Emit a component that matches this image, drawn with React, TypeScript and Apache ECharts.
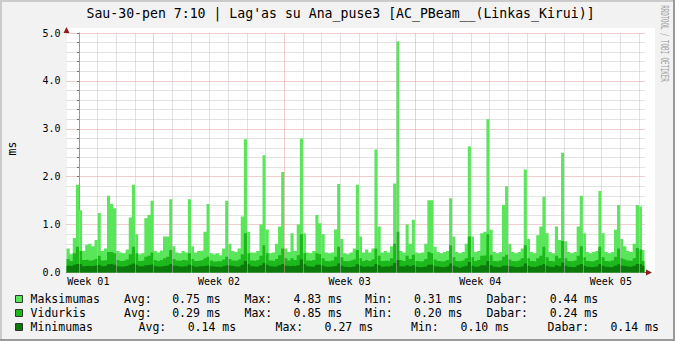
import React, { useEffect, useRef } from "react";
import * as echarts from "echarts";

const TITLE = "Sau-30-pen 7:10 | Lag'as su Ana_puse3 [AC_PBeam__(Linkas_Kirui)]";
const Y_UNIT = "ms";
const WATERMARK = "RRDTOOL / TOBI OETIKER";

// x axis in days since Dec 31 00:00
const AXIS_START = -0.67;
const AXIS_END = 30.33;
const SAMPLE_START = -4 / 6; // first 4-hour sample
const SAMPLE_STEP = 1 / 6; // 4 hours
const DATA_END = 30.299; // Jan 30 07:10

const weekLines = [4, 11, 18, 25];
const weekLabelDays = [0.5, 7.5, 14.5, 21.5, 28.5];
const weekLabels = ["Week 01", "Week 02", "Week 03", "Week 04", "Week 05"];

const maxValues = [
  0.5, 0.38, 0.72, 1.83, 1.3, 0.45, 0.58, 0.6, 0.55, 0.68, 1.24, 0.45,
  0.5, 1.6, 1.43, 1.34, 0.45, 0.42, 0.4, 0.48, 1.15, 1.83, 0.8, 0.38,
  0.4, 1.13, 1.2, 1.5, 0.45, 0.42, 0.46, 0.75, 0.75, 1.53, 0.55, 0.42,
  0.4, 0.45, 0.42, 1.53, 0.55, 0.42, 0.45, 0.46, 0.85, 1.43, 0.4, 0.38,
  0.4, 0.36, 0.5, 1.5, 0.6, 0.45, 0.43, 0.5, 1.17, 2.78, 0.85, 0.42,
  0.42, 0.45, 1.0, 2.45, 0.9, 0.4, 0.42, 0.6, 0.96, 2.1, 0.5, 0.43,
  0.82, 0.45, 1.0, 2.8, 0.82, 0.42, 0.4, 0.45, 1.2, 1.03, 0.8, 0.42,
  0.4, 0.42, 0.9, 1.85, 0.7, 0.4, 0.38, 0.42, 0.5, 1.83, 0.75, 0.42,
  0.48, 0.42, 0.5, 2.57, 0.96, 0.42, 0.45, 0.42, 0.55, 1.86, 4.83, 0.45,
  0.42, 1.0, 0.6, 1.1, 0.42, 0.4, 0.42, 0.6, 1.51, 1.51, 0.54, 0.43,
  0.4, 0.43, 0.45, 1.55, 0.75, 0.43, 0.4, 0.43, 0.6, 2.63, 0.75, 0.43,
  0.45, 0.82, 0.85, 3.2, 0.89, 0.43, 0.4, 0.43, 1.41, 1.8, 0.6, 0.43,
  0.4, 0.43, 0.5, 2.15, 0.7, 0.43, 0.4, 0.78, 0.96, 1.58, 0.82, 0.43,
  0.4, 0.96, 0.68, 2.5, 0.65, 0.43, 0.4, 0.43, 0.96, 1.6, 0.82, 0.43,
  0.4, 0.43, 0.45, 1.7, 0.82, 0.43, 0.4, 0.43, 0.89, 1.41, 0.7, 0.55,
  0.45, 0.43, 0.6, 1.41, 1.38, 0.47,
];

const avgValues = [
  0.28, 0.24, 0.4, 0.54, 0.45, 0.26, 0.27, 0.25, 0.26, 0.28, 0.35, 0.25,
  0.26, 0.43, 0.43, 0.4, 0.26, 0.24, 0.25, 0.27, 0.38, 0.54, 0.4, 0.24,
  0.25, 0.33, 0.35, 0.42, 0.26, 0.24, 0.26, 0.3, 0.33, 0.47, 0.28, 0.25,
  0.24, 0.26, 0.25, 0.4, 0.28, 0.24, 0.25, 0.26, 0.3, 0.33, 0.25, 0.23,
  0.24, 0.23, 0.27, 0.33, 0.28, 0.25, 0.24, 0.27, 0.38, 0.82, 0.4, 0.25,
  0.24, 0.26, 0.35, 0.57, 0.4, 0.25, 0.24, 0.28, 0.36, 0.5, 0.3, 0.25,
  0.3, 0.26, 0.36, 0.8, 0.4, 0.25, 0.24, 0.26, 0.4, 0.38, 0.3, 0.24,
  0.23, 0.25, 0.33, 0.54, 0.32, 0.24, 0.23, 0.25, 0.27, 0.47, 0.3, 0.24,
  0.26, 0.24, 0.27, 0.5, 0.35, 0.24, 0.25, 0.24, 0.3, 0.6, 0.85, 0.26,
  0.24, 0.35, 0.28, 0.37, 0.24, 0.23, 0.24, 0.28, 0.43, 0.4, 0.27, 0.24,
  0.23, 0.24, 0.26, 0.57, 0.32, 0.24, 0.23, 0.25, 0.3, 0.75, 0.32, 0.24,
  0.26, 0.35, 0.36, 0.8, 0.36, 0.24, 0.23, 0.25, 0.33, 0.37, 0.27, 0.24,
  0.23, 0.25, 0.3, 0.57, 0.3, 0.24, 0.23, 0.3, 0.35, 0.54, 0.32, 0.24,
  0.23, 0.35, 0.3, 0.66, 0.3, 0.24, 0.23, 0.25, 0.35, 0.55, 0.32, 0.24,
  0.23, 0.24, 0.26, 0.54, 0.32, 0.24, 0.23, 0.25, 0.33, 0.5, 0.3, 0.27,
  0.25, 0.24, 0.3, 0.51, 0.48, 0.24,
];

const minValues = [
  0.14, 0.13, 0.16, 0.18, 0.17, 0.13, 0.14, 0.13, 0.14, 0.15, 0.16, 0.13,
  0.14, 0.17, 0.18, 0.16, 0.13, 0.12, 0.13, 0.14, 0.16, 0.19, 0.16, 0.13,
  0.13, 0.15, 0.16, 0.17, 0.13, 0.12, 0.13, 0.14, 0.15, 0.18, 0.14, 0.13,
  0.12, 0.13, 0.13, 0.16, 0.14, 0.12, 0.13, 0.13, 0.14, 0.15, 0.13, 0.12,
  0.12, 0.11, 0.13, 0.15, 0.14, 0.13, 0.12, 0.13, 0.16, 0.24, 0.17, 0.13,
  0.12, 0.13, 0.15, 0.2, 0.16, 0.13, 0.12, 0.13, 0.15, 0.18, 0.14, 0.13,
  0.14, 0.13, 0.15, 0.27, 0.17, 0.13, 0.12, 0.13, 0.16, 0.16, 0.14, 0.12,
  0.12, 0.13, 0.14, 0.19, 0.14, 0.12, 0.11, 0.12, 0.13, 0.17, 0.14, 0.12,
  0.13, 0.12, 0.13, 0.18, 0.15, 0.12, 0.13, 0.12, 0.14, 0.2, 0.26, 0.13,
  0.12, 0.15, 0.13, 0.15, 0.12, 0.11, 0.12, 0.13, 0.16, 0.16, 0.13, 0.12,
  0.11, 0.12, 0.13, 0.19, 0.14, 0.12, 0.1, 0.12, 0.14, 0.22, 0.14, 0.12,
  0.13, 0.15, 0.15, 0.24, 0.15, 0.12, 0.11, 0.12, 0.14, 0.15, 0.13, 0.12,
  0.11, 0.12, 0.13, 0.19, 0.14, 0.12, 0.11, 0.13, 0.15, 0.18, 0.14, 0.12,
  0.11, 0.15, 0.13, 0.21, 0.14, 0.12, 0.11, 0.12, 0.15, 0.18, 0.14, 0.12,
  0.11, 0.12, 0.13, 0.18, 0.14, 0.12, 0.11, 0.12, 0.14, 0.17, 0.14, 0.13,
  0.12, 0.12, 0.14, 0.18, 0.17, 0.14,
];

const seriesNames = ["Maksimumas", "Vidurkis", "Minimumas"];
const seriesColors = ["#5AE65A", "#1CB81C", "#0B7A0B"];
const statAvg = [0.75, 0.29, 0.14];
const statMax = [4.83, 0.85, 0.27];
const statMin = [0.31, 0.2, 0.1];
const statNow = [0.44, 0.24, 0.14];
const statLabels = ["Avg:", "Max:", "Min:", "Dabar:"];

const MONO = "'DejaVu Sans Mono', monospace";
const BG = "#F2F2F2";
const AXIS_COLOR = "#707070";
const GRID_COLOR = "#C4C4C4";
const MGRID_COLOR = "#E29A9A";
const ARROW_COLOR = "#8E1C1C";

// legend layout (pixel columns)
const legendRowY = [299, 313, 327];
const legendColsA = [30.6, 124, 172.2, 244.5, 293.6, 365, 414, 486.4, 549.7];
const legendColsB = [30.6, 138.6, 187.7, 275.5, 324.6, 411, 460.6, 547.6, 610.4];

function toPoints(values: number[]) {
  const pts: [number, number][] = values.map((v, i) => [SAMPLE_START + i * SAMPLE_STEP, v]);
  pts.push([DATA_END, values[values.length - 1]]);
  return pts;
}

export default function App() {
  const ref = useRef<HTMLDivElement>(null);

  useEffect(() => {
    if (!ref.current) return;
    const chart = echarts.init(ref.current, undefined, { renderer: "svg" });
    const days = Array.from({ length: 31 }, (_, k) => k);
    const valuesBySeries = [maxValues, avgValues, minValues];

    const legendEls: any[] = [];
    seriesNames.forEach((name, r) => {
      const y = legendRowY[r];
      const cols = r < 2 ? legendColsA : legendColsB;
      legendEls.push({
        type: "rect",
        shape: { x: 15.5, y: y - 3.5, width: 7, height: 7 },
        style: { fill: seriesColors[r], stroke: "#333", lineWidth: 1 },
        z: 10,
      });
      const texts = [
        name,
        statLabels[0], statAvg[r].toFixed(2) + " ms",
        statLabels[1], statMax[r].toFixed(2) + " ms",
        statLabels[2], statMin[r].toFixed(2) + " ms",
        statLabels[3], statNow[r].toFixed(2) + " ms",
      ];
      texts.forEach((t, c) => {
        legendEls.push({
          type: "text",
          x: cols[c],
          y,
          z: 10,
          style: { text: t, font: `11.5px ${MONO}`, fill: "#000", verticalAlign: "middle", align: "left" },
        });
      });
    });

    const option: any = {
      animation: false,
      backgroundColor: BG,
      grid: { left: 66.5, top: 33, width: 578.5, height: 239.5, containLabel: false, show: false },
      xAxis: {
        type: "value",
        min: AXIS_START,
        max: AXIS_END,
        axisLine: { show: true, onZero: false, lineStyle: { color: AXIS_COLOR, width: 1 } },
        axisTick: { show: false },
        splitLine: { show: false },
        axisLabel: {
          customValues: weekLabelDays,
          formatter: (v: number) => {
            let best = 0;
            weekLabelDays.forEach((d, i) => {
              if (Math.abs(d - v) < Math.abs(weekLabelDays[best] - v)) best = i;
            });
            return weekLabels[best];
          },
          fontFamily: MONO,
          fontSize: 10,
          color: "#000",
          margin: 4,
        },
      },
      yAxis: {
        type: "value",
        min: 0,
        max: 5,
        interval: 1,
        axisLine: { show: true, lineStyle: { color: AXIS_COLOR, width: 1 } },
        axisTick: { show: true, length: 2, lineStyle: { color: AXIS_COLOR } },
        minorTick: { show: true, splitNumber: 5, length: 2, lineStyle: { color: AXIS_COLOR } },
        splitLine: { show: true, lineStyle: { color: MGRID_COLOR, type: [1, 1], width: 1 } },
        minorSplitLine: { show: true, lineStyle: { color: GRID_COLOR, type: [1, 1], width: 1 } },
        axisLabel: {
          formatter: (v: number) => v.toFixed(1),
          fontFamily: MONO,
          fontSize: 10,
          color: "#000",
          margin: 6,
        },
      },
      series: [
        {
          type: "line",
          z: 1,
          silent: true,
          data: [],
          markLine: {
            silent: true,
            symbol: ["none", "none"],
            label: { show: false },
            emphasis: { disabled: true },
            animation: false,
            data: days.map((d) => ({
              xAxis: d,
              lineStyle: {
                color: weekLines.includes(d) ? MGRID_COLOR : GRID_COLOR,
                type: [1, 1],
                width: 1,
              },
            })),
          },
        },
        ...valuesBySeries.map((vals, s) => ({
          name: seriesNames[s],
          type: "line",
          z: 2 + s,
          step: "end",
          symbol: "none",
          showSymbol: false,
          silent: true,
          clip: true,
          data: toPoints(vals),
          lineStyle: { width: 0, opacity: 0 },
          areaStyle: { color: seriesColors[s], opacity: 1 },
        })),
      ],
      graphic: {
        elements: [
          {
            type: "rect",
            shape: { x: 67, y: 28, width: 588, height: 245 },
            style: { fill: "#FFFFFF" },
            z: -10,
          },
          // frame
          { type: "rect", shape: { x: 0, y: 0, width: 675, height: 2 }, style: { fill: "#CBCBCB" }, z: -5 },
          { type: "rect", shape: { x: 0, y: 0, width: 2, height: 341 }, style: { fill: "#CBCBCB" }, z: -5 },
          { type: "rect", shape: { x: 673, y: 0, width: 2, height: 341 }, style: { fill: "#999999" }, z: -5 },
          { type: "rect", shape: { x: 0, y: 339, width: 675, height: 2 }, style: { fill: "#999999" }, z: -5 },
          // axis extensions and arrows
          {
            type: "line",
            shape: { x1: 645, y1: 272.5, x2: 647, y2: 272.5 },
            style: { stroke: AXIS_COLOR, lineWidth: 1 },
            z: 10,
          },
          {
            type: "polygon",
            shape: { points: [[646, 269.5], [646, 275.5], [652, 272.5]] },
            style: { fill: ARROW_COLOR },
            z: 10,
          },
          {
            type: "polygon",
            shape: { points: [[63.5, 33], [69.5, 33], [66.5, 27]] },
            style: { fill: ARROW_COLOR },
            z: 10,
          },
          {
            type: "text",
            x: 340.5,
            y: 13.5,
            z: 10,
            style: { text: TITLE, font: `13.2px ${MONO}`, fill: "#000", align: "center", verticalAlign: "middle" },
          },
          {
            type: "text",
            x: 11.5,
            y: 148.5,
            rotation: Math.PI / 2,
            z: 10,
            style: { text: Y_UNIT, font: `11.5px ${MONO}`, fill: "#000", align: "center", verticalAlign: "middle" },
          },
          {
            type: "text",
            x: 665,
            y: 43.5,
            rotation: -Math.PI / 2,
            scaleX: 0.58,
            z: 10,
            style: { text: WATERMARK, font: `10px ${MONO}`, fill: "#A0A0A0", align: "center", verticalAlign: "middle" },
          },
          ...legendEls,
        ],
      },
    };

    chart.setOption(option);
    return () => chart.dispose();
  }, []);

  return (
    <div
      ref={ref}
      style={{ position: "fixed", left: 0, top: 0, width: 675, height: 341, background: BG }}
    />
  );
}
